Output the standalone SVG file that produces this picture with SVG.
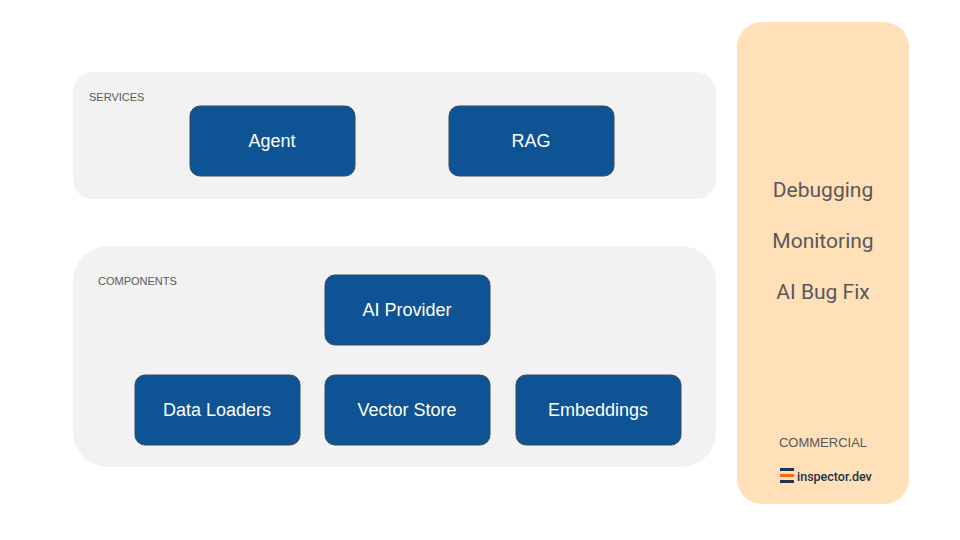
<svg xmlns="http://www.w3.org/2000/svg" width="960" height="540" viewBox="0 0 960 540">
<style>
.panel{fill:#f2f2f2}
.node rect{fill:#0e5394;stroke:#3b4a5a;stroke-width:1}
.node text{fill:#fff;font-family:"Liberation Sans",Arial,sans-serif;font-size:18px;text-anchor:middle;dominant-baseline:central}
.lbl{fill:#595959;font-family:"Liberation Sans",Arial,sans-serif;font-size:11px}
.big{fill:#595959;font-family:"Roboto","Liberation Sans",sans-serif;font-size:21px;text-anchor:middle}
</style>
<rect width="960" height="540" fill="#fff"/>
<g id="services"><rect class="panel" x="73" y="72" width="643" height="127" rx="20"/><text class="lbl" x="89" y="101">SERVICES</text></g>
<g id="components"><rect class="panel" x="73" y="246" width="643" height="221" rx="35"/><text class="lbl" x="98" y="285">COMPONENTS</text></g>
<g id="commercial">
<rect x="737" y="22" width="172" height="482" rx="25" fill="#ffe0b8"/>
<text class="big" x="823" y="197">Debugging</text>
<text class="big" x="823" y="248">Monitoring</text>
<text class="big" x="823" y="299">AI Bug Fix</text>
<text class="lbl" x="823" y="447" text-anchor="middle" style="font-size:13px">COMMERCIAL</text>
<rect x="780" y="468" width="14" height="3" fill="#25324a"/>
<rect x="780" y="474" width="14" height="3" fill="#f26a1b"/>
<rect x="780" y="480" width="14" height="3" fill="#25324a"/>
<text x="797" y="481" font-family="Roboto,'Liberation Sans',sans-serif" font-size="12.5" font-weight="500" fill="#25324a">inspector.dev</text>
</g>
<g id="agent" class="node"><rect x="190" y="106" width="165" height="70" rx="10"/><text x="272" y="141">Agent</text></g>
<g id="rag" class="node"><rect x="449" y="106" width="165" height="70" rx="10"/><text x="531" y="141">RAG</text></g>
<g id="ai-provider" class="node"><rect x="325" y="275" width="165" height="70" rx="10"/><text x="407" y="310">AI Provider</text></g>
<g id="data-loaders" class="node"><rect x="135" y="375" width="165" height="70" rx="10"/><text x="217" y="410">Data Loaders</text></g>
<g id="vector-store" class="node"><rect x="325" y="375" width="165" height="70" rx="10"/><text x="407" y="410">Vector Store</text></g>
<g id="embeddings" class="node"><rect x="516" y="375" width="165" height="70" rx="10"/><text x="598" y="410">Embeddings</text></g>
<g id="connectors"></g>
</svg>
